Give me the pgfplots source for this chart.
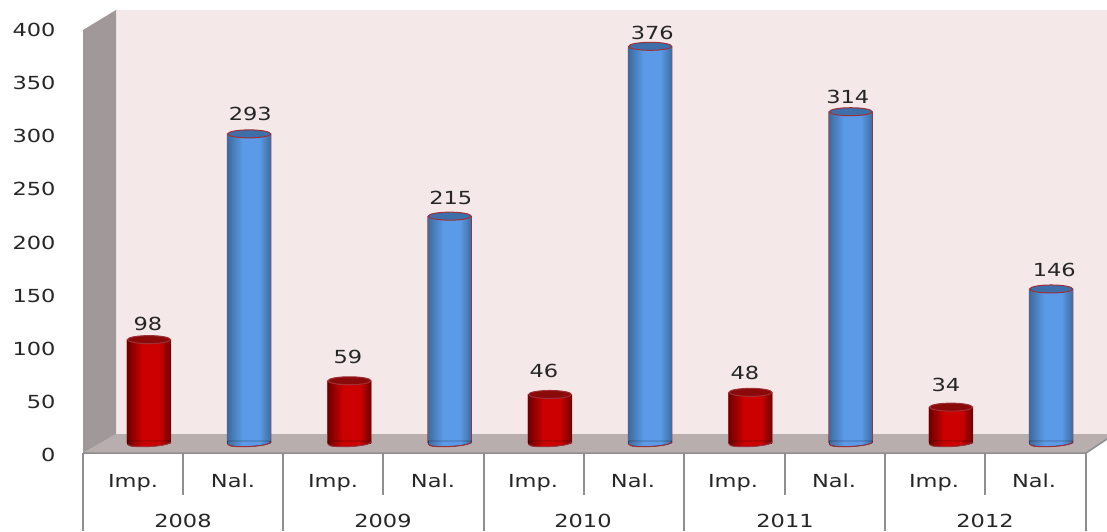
\documentclass[border=0pt]{standalone}
\usepackage{fontspec}
\setmainfont[FakeStretch=1.25]{DejaVu Sans}
\usepackage{pgfplots}
\pgfplotsset{compat=1.18}
\usepackage{pgfplotstable}
\definecolor{txt}{HTML}{262626}
\definecolor{wall}{HTML}{F5E8E8}
\definecolor{floorc}{HTML}{B8AEAE}
\definecolor{sidec}{HTML}{A19999}
\definecolor{gridc}{HTML}{8E8E8E}
\definecolor{rimred}{HTML}{A03038}
\definecolor{topred}{HTML}{8A0A0A}
\definecolor{topblue}{HTML}{3F6FA8}
\definecolor{HTMLred1}{HTML}{700000}
\definecolor{HTMLred2}{HTML}{CC0000}
\definecolor{HTMLblue1}{HTML}{3F6CA0}
\definecolor{HTMLblue2}{HTML}{5A9AE6}
\pgfdeclarehorizontalshading{cylred}{100bp}{color(0bp)=(HTMLred1);color(25bp)=(HTMLred1);color(42bp)=(HTMLred2);color(62bp)=(HTMLred2);color(75bp)=(HTMLred1);color(100bp)=(HTMLred1)}
\pgfdeclarehorizontalshading{cylblue}{100bp}{color(0bp)=(HTMLblue1);color(25bp)=(HTMLblue1);color(42bp)=(HTMLblue2);color(62bp)=(HTMLblue2);color(75bp)=(HTMLblue1);color(100bp)=(HTMLblue1)}
\pgfdeclareplotmark{toprd}{\path[rotate=3,fill=topred,draw=rimred,line width=1pt] (0pt,0pt) ellipse[x radius=21.5pt,y radius=4pt];}
\pgfdeclareplotmark{topbl}{\path[rotate=3,fill=topblue,draw=rimred,line width=1pt] (0pt,0pt) ellipse[x radius=21.5pt,y radius=4pt];}
\pgfdeclareplotmark{botrd}{\path[shading=cylred] (-21.5pt,2pt) -- (-21.5pt,-1.1pt) .. controls (-21.5pt,-5.8pt) and (21.5pt,-3.6pt) .. (21.5pt,1.1pt) -- (21.5pt,2pt) -- cycle;\path[draw=rimred,line width=1pt] (-21.5pt,-1.1pt) .. controls (-21.5pt,-5.8pt) and (21.5pt,-3.6pt) .. (21.5pt,1.1pt);}
\pgfdeclareplotmark{botbl}{\path[shading=cylblue] (-21.5pt,2pt) -- (-21.5pt,-1.1pt) .. controls (-21.5pt,-5.8pt) and (21.5pt,-3.6pt) .. (21.5pt,1.1pt) -- (21.5pt,2pt) -- cycle;\path[draw=rimred,line width=1pt] (-21.5pt,-1.1pt) .. controls (-21.5pt,-5.8pt) and (21.5pt,-3.6pt) .. (21.5pt,1.1pt);}
\pgfplotstableread{
x v
0 98
2 59
4 46
6 48
8 34
}\imp
\pgfplotstableread{
x v
1 293
3 215
5 376
7 314
9 146
}\nal
\pgfplotstableread{
x y v
-0.01 112.8 98
1.01 311.8 293
1.985 81.5 59
3.01 232.2 215
3.94 68.2 46
5.02 388.6 376
5.945 66.4 48
6.97 328 314
7.95 55 34
9.03 164 146
}\labs
\pgfplotsset{common/.style={scale only axis,width=1107pt,height=531pt,at={(0,0)},anchor=south west,clip=false,
 /pgf/number format/assume math mode=true,
 tick label style={font=\fontsize{18}{20}\selectfont,text=txt},
 axis line style={draw=none},tick style={draw=none},major tick length=0pt},
 barR/.style={ybar,bar shift=0pt,bar width=43pt,shading=cylred,draw=none},
 barB/.style={ybar,bar shift=0pt,bar width=43pt,shading=cylblue,draw=none},
 barU/.style={ybar,bar shift=0pt,bar width=44.5pt,fill=rimred,draw=none}}
\begin{document}
\begin{tikzpicture}
\useasboundingbox (0,0) rectangle (1107pt,531pt);
% scenery in picture coordinates
\begin{axis}[common,xmin=0,xmax=1107,ymin=-531,ymax=0,
 hide y axis,
 xtick={133,233,333,433,533,633,733,834,934,1034},
 xticklabels={Imp.,Nal.,Imp.,Nal.,Imp.,Nal.,Imp.,Nal.,Imp.,Nal.},
 x tick label style={anchor=center,text height=13pt,text depth=4pt,yshift=48pt},
 extra x ticks={183,383,583,785,985},
 extra x tick labels={2008,2009,2010,2011,2012},
 extra x tick style={tick label style={anchor=center,yshift=-40pt},tick style={draw=none}},
 unbounded coords=jump]
\addplot[fill=wall,draw=none] coordinates {(116,-10)(1107,-10)(1107,-434)(116,-434)} -- cycle;
\addplot[fill=floorc,draw=none] coordinates {(83,-453)(116,-434)(1107,-434)(1107,-439)(1086,-453)} -- cycle;
\addplot[fill=sidec,draw=none] coordinates {(83,-30)(116,-10)(116,-434)(83,-453)} -- cycle;
\addplot[gridc,line width=1.5pt] coordinates {(83,-453)(1086,-453)(1107,-439)};
\addplot[gridc,line width=1.4pt] coordinates {
(83,-453)(83,-531)(nan,nan)(283,-453)(283,-531)(nan,nan)(484,-453)(484,-531)(nan,nan)
(684,-453)(684,-531)(nan,nan)(885,-453)(885,-531)(nan,nan)(1086,-453)(1086,-531)(nan,nan)
(183,-453)(183,-495)(nan,nan)(383,-453)(383,-495)(nan,nan)(584,-453)(584,-495)(nan,nan)
(785,-453)(785,-495)(nan,nan)(985,-453)(985,-495)};
\end{axis}
% bars
\begin{axis}[common,xmin=-1.486,xmax=9.556,ymin=-83.41,ymax=419.9,hide x axis,hide y axis]
\addplot[barU] table[x=x,y=v]{\imp};
\addplot[barU] table[x=x,y=v]{\nal};
\addplot[barR] coordinates {(0,98)};
\addplot[barB] coordinates {(1,293)};
\addplot[barR] coordinates {(2,59)};
\addplot[barB] coordinates {(3,215)};
\addplot[barR] coordinates {(4,46)};
\addplot[barB] coordinates {(5,376)};
\addplot[barR] coordinates {(6,48)};
\addplot[barB] coordinates {(7,314)};
\addplot[barR] coordinates {(8,34)};
\addplot[barB] coordinates {(9,146)};
\addplot[only marks,mark=botrd] table[x=x,y expr=0]{\imp};
\addplot[only marks,mark=botbl] table[x=x,y expr=0]{\nal};
\addplot[only marks,mark=toprd] table[x=x,y=v]{\imp};
\addplot[only marks,mark=topbl] table[x=x,y=v]{\nal};
\addplot[only marks,mark=none,point meta=explicit,nodes near coords,
 every node near coord/.append style={anchor=center,font=\fontsize{18}{20}\selectfont,text=txt,/pgf/number format/assume math mode=true}]
 table[x=x,y=y,meta=v]{\labs};
\end{axis}
% value axis labels
\begin{axis}[common,xmin=0,xmax=1,ymin=-71.53,ymax=428.2,hide x axis,
 ytick={0,50,...,400},
 y tick label style={anchor=east,xshift=59pt}]
\end{axis}
\end{tikzpicture}
\end{document}
